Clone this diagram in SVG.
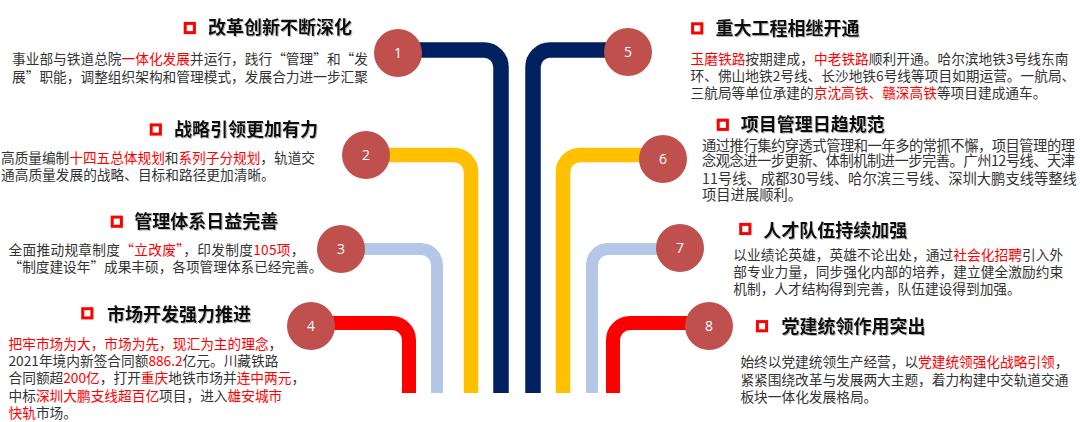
<svg xmlns="http://www.w3.org/2000/svg" width="1080" height="422" viewBox="0 0 1080 422">
<defs>
<filter id="sh" x="-5%" y="-20%" width="110%" height="150%">
<feDropShadow dx="1" dy="1" stdDeviation="0.6" flood-color="#7f7f7f" flood-opacity="0.55"/>
</filter>
</defs>
<style>
.t{font-family:"Noto Sans CJK SC","Noto Sans",sans-serif;font-size:18px;font-weight:bold;fill:#111;filter:url(#sh)}
.b{font-family:"Noto Sans CJK SC","Noto Sans",sans-serif;font-size:13.7px;fill:#333}
.b6{font-size:14.3px}
.r{fill:#ff0000}
.bul{fill:none;stroke:#ff0000;stroke-width:3}
.c{fill:#C0504D}
.n{font-family:"Open Sans","Noto Sans",sans-serif;font-size:14px;fill:#fff;text-anchor:middle}
.ln{fill:none;stroke-linecap:butt}
.navy{stroke:#002060;stroke-width:15.5}
.yel{stroke:#FFC000;stroke-width:14.5}
.lb{stroke:#B4C7E7;stroke-width:12}
.red{stroke:#FF0000;stroke-width:14}
</style>
<rect width="1080" height="422" fill="#fff"/>
<g id="connectors">
<path class="ln navy" d="M398 50 H484 A17 17 0 0 1 501 67 V393"/>
<path class="ln navy" d="M628 50 H550 A17 17 0 0 0 533 67 V393"/>
<path class="ln yel" d="M366 155 H454 A17 17 0 0 1 471 172 V393"/>
<path class="ln yel" d="M663 155 H580 A17 17 0 0 0 563 172 V393"/>
<path class="ln lb" d="M341 249 H421 A16 16 0 0 1 437 265 V393"/>
<path class="ln lb" d="M680 249 H608 A16 16 0 0 0 592 265 V393"/>
<path class="ln red" d="M311 323 H392 A17 17 0 0 1 409 340 V393"/>
<path class="ln red" d="M709 323 H630 A17 17 0 0 0 613 340 V393"/>
</g>
<g id="node1">
<circle class="c" cx="398" cy="53" r="24"/><text class="n" x="398" y="58">1</text>
<rect class="bul" x="185.2" y="23.4" width="9.2" height="9.2"/>
<text class="t" x="208" y="34">改革创新不断深化</text>
<text class="b" x="12" y="63.7" textLength="356" lengthAdjust="spacing">事业部与铁道总院<tspan class="r">一体化发展</tspan>并运行，践行“管理”和“发</text>
<text class="b" x="12" y="81.6" textLength="356" lengthAdjust="spacing">展”职能，调整组织架构和管理模式，发展合力进一步汇聚</text>
</g>
<g id="node2">
<circle class="c" cx="366" cy="155" r="24"/><text class="n" x="366" y="160">2</text>
<rect class="bul" x="151.2" y="124.9" width="9.2" height="9.2"/>
<text class="t" x="174" y="135.5">战略引领更加有力</text>
<text class="b" x="1" y="162.7" textLength="314" lengthAdjust="spacing">高质量编制<tspan class="r">十四五总体规划</tspan>和<tspan class="r">系列子分规划</tspan>，轨道交</text>
<text class="b" x="1" y="180">通高质量发展的战略、目标和路径更加清晰。</text>
</g>
<g id="node3">
<circle class="c" cx="341" cy="249" r="24"/><text class="n" x="341" y="254">3</text>
<rect class="bul" x="112.2" y="217.1" width="9.2" height="9.2"/>
<text class="t" x="134.3" y="228.3">管理体系日益完善</text>
<text class="b" x="8.5" y="255.2" textLength="296" lengthAdjust="spacing">全面推动规章制度<tspan class="r">“立改废”</tspan>，印发制度<tspan class="r">105项</tspan>，</text>
<text class="b" x="8.5" y="271.5" textLength="314" lengthAdjust="spacing">“制度建设年”成果丰硕，各项管理体系已经完善。</text>
</g>
<g id="node4">
<circle class="c" cx="311" cy="326" r="24"/><text class="n" x="311" y="331">4</text>
<rect class="bul" x="82.7" y="308.7" width="9.2" height="9.2"/>
<text class="t" x="107" y="321">市场开发强力推进</text>
<text class="b" x="8.5" y="349"><tspan class="r">把牢市场为大，市场为先，现汇为主的理念</tspan>，</text>
<text class="b" x="8.5" y="366.2">2021年境内新签合同额<tspan class="r">886.2</tspan>亿元。川藏铁路</text>
<text class="b" x="8.5" y="383.4">合同额超<tspan class="r">200亿</tspan>，打开<tspan class="r">重庆</tspan>地铁市场并<tspan class="r">连中两元</tspan>，</text>
<text class="b" x="8.5" y="400.6">中标<tspan class="r">深圳大鹏支线超百亿</tspan>项目，进入<tspan class="r">雄安城市</tspan></text>
<text class="b" x="8.5" y="417.8"><tspan class="r">快轨</tspan>市场。</text>
</g>
<g id="node5">
<circle class="c" cx="628" cy="52" r="24"/><text class="n" x="628" y="57">5</text>
<rect class="bul" x="692.6" y="23.8" width="9.2" height="9.2"/>
<text class="t" x="715.6" y="35.2">重大工程相继开通</text>
<text class="b" x="690.5" y="63.7" textLength="378" lengthAdjust="spacing"><tspan class="r">玉磨铁路</tspan>按期建成，<tspan class="r">中老铁路</tspan>顺利开通。哈尔滨地铁3号线东南</text>
<text class="b" x="690.5" y="81">环、佛山地铁2号线、长沙地铁6号线等项目如期运营。一航局、</text>
<text class="b" x="690.5" y="97.5">三航局等单位承建的<tspan class="r">京沈高铁、赣深高铁</tspan>等项目建成通车。</text>
</g>
<g id="node6">
<circle class="c" cx="663" cy="159" r="24"/><text class="n" x="663" y="164">6</text>
<rect class="bul" x="718.2" y="120.2" width="9.2" height="9.2"/>
<text class="t" x="740.8" y="131.3">项目管理日趋规范</text>
<text class="b b6" x="702" y="150.9" textLength="373" lengthAdjust="spacing">通过推行集约穿透式管理和一年多的常抓不懈，项目管理的理</text>
<text class="b b6" x="702" y="166.4" textLength="373" lengthAdjust="spacing">念观念进一步更新、体制机制进一步完善。广州12号线、天津</text>
<text class="b b6" x="702" y="183.6">11号线、成都30号线、哈尔滨三号线、深圳大鹏支线等整线</text>
<text class="b b6" x="702" y="200.1">项目进展顺利。</text>
</g>
<g id="node7">
<circle class="c" cx="680" cy="248" r="24"/><text class="n" x="680" y="253">7</text>
<rect class="bul" x="740.7" y="224.4" width="9.2" height="9.2"/>
<text class="t" x="763.3" y="236.6">人才队伍持续加强</text>
<text class="b" x="733.3" y="260.2" textLength="330" lengthAdjust="spacing">以业绩论英雄，英雄不论出处，通过<tspan class="r">社会化招聘</tspan>引入外</text>
<text class="b" x="733.3" y="276.9" textLength="330" lengthAdjust="spacing">部专业力量，同步强化内部的培养，建立健全激励约束</text>
<text class="b" x="733.3" y="293.5">机制，人才结构得到完善，队伍建设得到加强。</text>
</g>
<g id="node8">
<circle class="c" cx="709" cy="326" r="24"/><text class="n" x="709" y="331">8</text>
<rect class="bul" x="757.4" y="321.6" width="9.2" height="9.2"/>
<text class="t" x="781.5" y="333">党建统领作用突出</text>
<text class="b" x="740.4" y="367.2" textLength="328" lengthAdjust="spacing">始终以党建统领生产经营，以<tspan class="r">党建统领强化战略引领</tspan>，</text>
<text class="b" x="740.4" y="385.1" textLength="328" lengthAdjust="spacing">紧紧围绕改革与发展两大主题，着力构建中交轨道交通</text>
<text class="b" x="740.4" y="401.6">板块一体化发展格局。</text>
</g>
</svg>
